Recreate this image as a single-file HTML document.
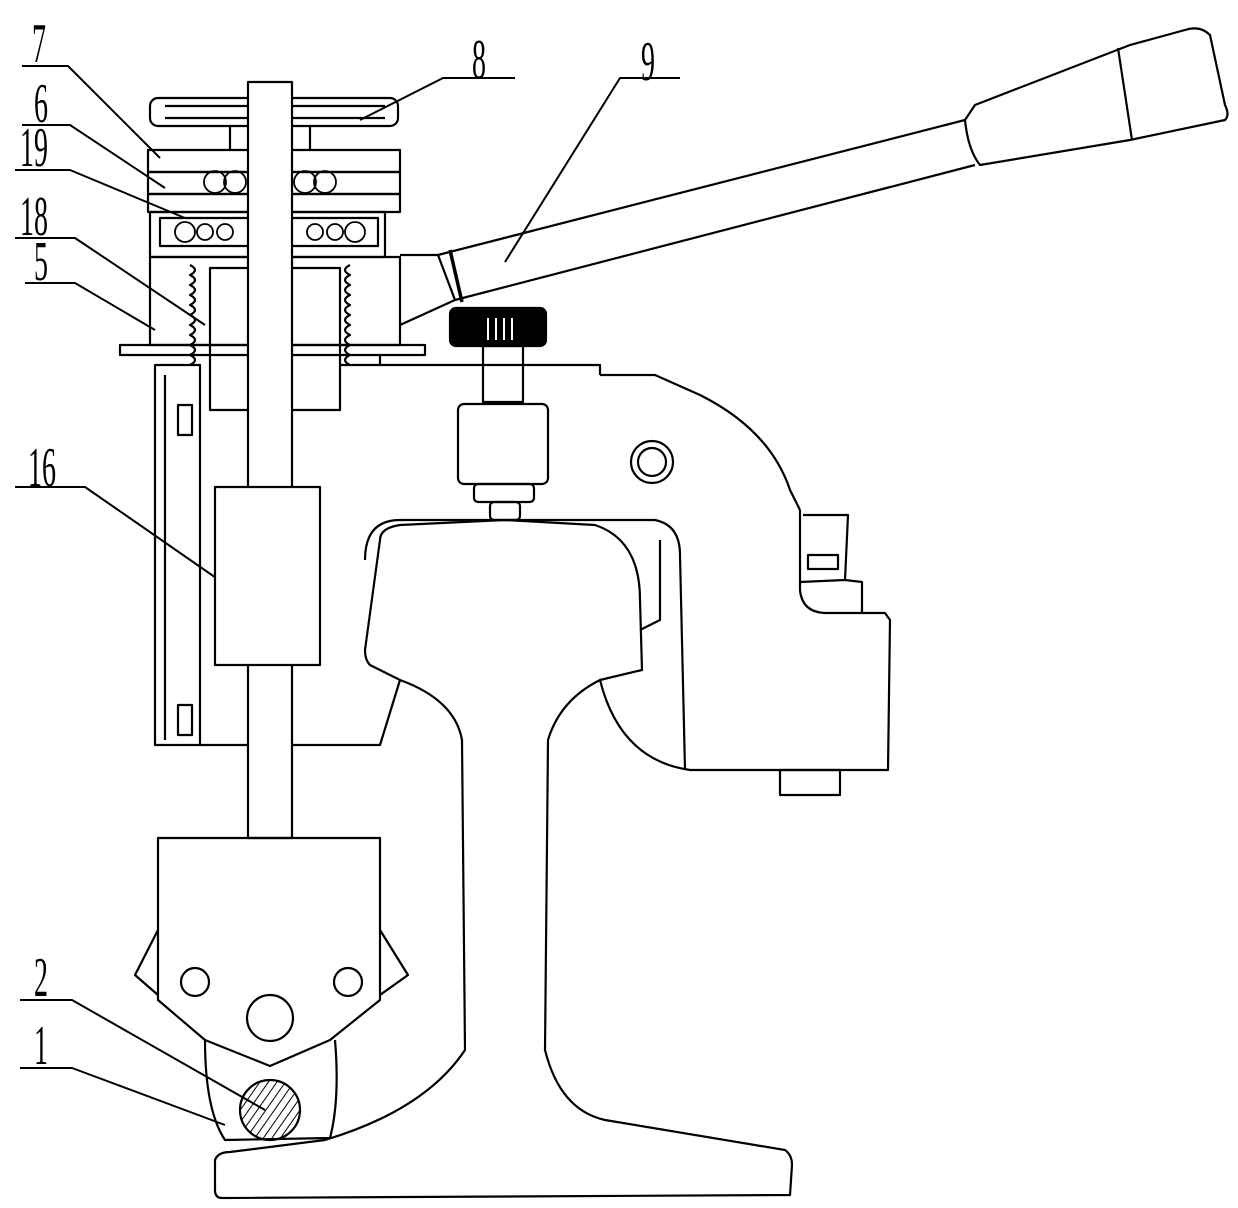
<!DOCTYPE html>
<html><head><meta charset="utf-8"><style>html,body{margin:0;padding:0;background:#fff}svg{display:block}</style></head>
<body>
<svg width="1238" height="1208" viewBox="0 0 1238 1208" xmlns="http://www.w3.org/2000/svg" fill="none" stroke="#000" stroke-width="2.2" stroke-linejoin="round">
<defs>
<pattern id="h" width="7" height="7" patternUnits="userSpaceOnUse" patternTransform="rotate(35)"><line x1="0" y1="0" x2="0" y2="7" stroke="#000" stroke-width="2"/></pattern>
</defs>
<g font-family="Liberation Serif, serif" font-size="56" fill="#000" stroke="none">
<text transform="translate(32,62) scale(0.5,1)">7</text>
<text transform="translate(34,122) scale(0.5,1)">6</text>
<text transform="translate(20,166) scale(0.5,1)">19</text>
<text transform="translate(20,235) scale(0.5,1)">18</text>
<text transform="translate(34,280) scale(0.5,1)">5</text>
<text transform="translate(28,486) scale(0.5,1)">16</text>
<text transform="translate(34,996) scale(0.5,1)">2</text>
<text transform="translate(34,1064) scale(0.5,1)">1</text>
<text transform="translate(472,78) scale(0.5,1)">8</text>
<text transform="translate(641,80) scale(0.5,1)">9</text>
</g>
<g stroke-width="2">
<polyline points="22,66 68,66 160,158"/>
<polyline points="22,125 70,125 165,188"/>
<polyline points="15,170 70,170 185,218"/>
<polyline points="15,238 75,238 205,325"/>
<polyline points="25,283 75,283 155,330"/>
<polyline points="15,487 85,487 245,598"/>
<polyline points="20,1000 72,1000 265,1110"/>
<polyline points="20,1068 72,1068 225,1125"/>
<polyline points="515,78 443,78 360,120"/>
<polyline points="680,78 620,78 505,262"/>
</g>
<rect x="150" y="98" width="248" height="28" rx="8"/>
<line x1="165" y1="106" x2="385" y2="106"/><line x1="165" y1="118" x2="385" y2="118"/>
<line x1="230" y1="126" x2="230" y2="150"/><line x1="310" y1="126" x2="310" y2="150"/>
<rect x="148" y="150" width="252" height="22"/>
<rect x="148" y="172" width="252" height="22"/>
<rect x="148" y="194" width="252" height="18"/>
<rect x="150" y="212" width="235" height="45"/>
<rect x="160" y="218" width="218" height="28"/>
<g stroke-width="1.8">
<circle cx="215" cy="182" r="11"/><circle cx="235" cy="182" r="11"/><circle cx="305" cy="182" r="11"/><circle cx="325" cy="182" r="11"/>
<circle cx="185" cy="232" r="10"/><circle cx="205" cy="232" r="8"/><circle cx="225" cy="232" r="8"/><circle cx="315" cy="232" r="8"/><circle cx="335" cy="232" r="8"/><circle cx="355" cy="232" r="10"/>
</g>
<rect x="150" y="257" width="250" height="88"/>
<rect x="120" y="345" width="305" height="10"/>
<path d="M190,265 q10,5 0,10 q10,5 0,10 q10,5 0,10 q10,5 0,10 q10,5 0,10 q10,5 0,10 q10,5 0,10 q10,5 0,10 q10,5 0,10 q10,5 0,10"/>
<path d="M350,265 q-10,5 0,10 q-10,5 0,10 q-10,5 0,10 q-10,5 0,10 q-10,5 0,10 q-10,5 0,10 q-10,5 0,10 q-10,5 0,10 q-10,5 0,10 q-10,5 0,10"/>
<rect x="210" y="268" width="130" height="142"/>
<line x1="340" y1="365" x2="380" y2="365"/>
<polyline points="380,355 380,365 600,365 600,375"/>
<rect x="155" y="365" width="45" height="380"/>
<line x1="165" y1="375" x2="165" y2="740"/>
<rect x="178" y="405" width="14" height="30"/><rect x="178" y="705" width="14" height="30"/>
<polyline points="200,745 380,745 400,680"/>
<rect x="248" y="82" width="44" height="756" fill="#fff"/>
<rect x="215" y="487" width="105" height="178" fill="#fff"/>
<polyline points="400,255 438,255 455,300 400,325"/>
<path d="M438,255 L965,120 M455,300 L975,165"/>
<path d="M965,120 Q968,150 980,165 L1130,140 L1225,120 Q1230,115 1225,105 L1210,35 Q1200,25 1185,30 L1130,45 L975,105 Z"/>
<line x1="1118" y1="48" x2="1132" y2="140"/>
<line x1="450" y1="250" x2="462" y2="302" stroke-width="3.5"/>
<rect x="450" y="308" width="96" height="38" rx="6" fill="#000"/>
<g stroke="#fff" stroke-width="2"><line x1="488" y1="318" x2="488" y2="340"/><line x1="496" y1="318" x2="496" y2="340"/><line x1="504" y1="318" x2="504" y2="340"/><line x1="512" y1="318" x2="512" y2="340"/></g>
<rect x="483" y="346" width="40" height="56"/>
<rect x="458" y="404" width="90" height="80" rx="6"/>
<rect x="474" y="484" width="60" height="18" rx="4"/>
<rect x="490" y="502" width="30" height="18" rx="4"/>
<path d="M600,375 L655,375 L700,395 Q770,430 790,490 L800,510"/>
<path d="M800,510 L800,590 Q802,612 825,613 L885,613 L890,620 L888,770 L690,770 Q620,760 600,680"/>
<path d="M365,560 Q365,520 400,520 L655,520 Q680,525 680,555 L685,770"/>
<circle cx="652" cy="462" r="21"/><circle cx="652" cy="462" r="14"/>
<path d="M803,515 L848,515 L845,580 L800,582"/>
<rect x="808" y="555" width="30" height="14"/>
<path d="M845,580 L862,582 L862,613"/>
<rect x="780" y="770" width="60" height="25"/>
<path d="M380,540 Q380,528 400,525 L505,520 L595,525 Q640,540 640,600 L642,670 L600,680 Q560,700 548,740 L545,1050 Q560,1110 605,1120 L785,1150 Q792,1155 792,1165 L790,1195 L222,1198 Q215,1198 215,1190 L215,1160 Q218,1152 230,1152 L325,1140 Q425,1110 465,1050 L462,740 Q455,700 400,680 L370,665 Q365,660 365,650 Z"/>
<path d="M640,630 L660,620 L660,540"/>
<path d="M158,838 L380,838 L380,1000 L330,1040 L270,1066 L205,1040 L158,1000 Z"/>
<path d="M158,930 L135,975 L158,995 M380,930 L408,975 L380,995"/>
<circle cx="195" cy="982" r="14"/><circle cx="348" cy="982" r="14"/>
<circle cx="270" cy="1018" r="23"/>
<path d="M205,1040 Q205,1110 225,1140 L330,1138 Q340,1100 335,1040"/>
<circle cx="270" cy="1110" r="30" fill="url(#h)"/>
</svg>
</body></html>
